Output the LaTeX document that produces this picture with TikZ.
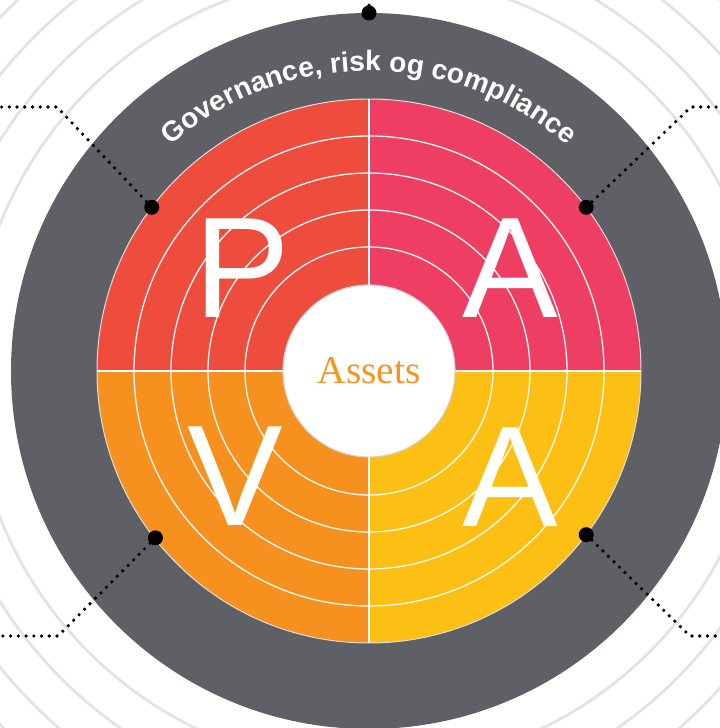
\documentclass[tikz,border=0pt]{standalone}
\usepackage{fontspec}
\setmainfont{Liberation Sans}
\newfontfamily\assetsfont{Liberation Serif}
\usetikzlibrary{decorations.text}
\definecolor{ringgray}{HTML}{5F6065}
\definecolor{haze}{HTML}{E2E3E4}
\definecolor{planred}{HTML}{EE4C3C}
\definecolor{actpink}{HTML}{EF3E64}
\definecolor{verorange}{HTML}{F6901E}
\definecolor{adjyellow}{HTML}{FCBF13}
\definecolor{assetorange}{HTML}{F7941D}
\newcommand*{\grcstyle}{\fontsize{20}{20}\selectfont\bfseries\color{white}}
\newcommand{\quarter}[2]{%
% start angle, colour
  \pgfmathsetmacro{\qstart}{#1}
  \pgfmathsetmacro{\qend}{#1+90}
  \fill[#2] (0,0) -- (\qstart:272) arc (\qstart:\qend:272) -- cycle;
  \foreach \r in {124,161,198,235}
    \draw[white, line width=0.9pt] (\qstart:\r) arc (\qstart:\qend:\r);
}

\begin{document}
\begin{tikzpicture}[x=0.025cm, y=0.025cm,
  bigletter/.style={text=white, inner sep=0pt, font=\fontsize{102}{102}\selectfont},
  blackdot/.style={circle, fill=black, inner sep=0pt, minimum size=0.375cm},
  dotline/.style={line width=2.6pt, line cap=round, dash pattern=on 0pt off 5.5pt}]
  \useasboundingbox (-369,-357) rectangle (351,371);
  \foreach \r in {397,435,473,511}
    \draw[haze, line width=2pt] (0,0) circle (\r);
  \fill[ringgray] (0,0) circle (358);
  \quarter{90}{planred}
  \quarter{0}{actpink}
  \quarter{180}{verorange}
  \quarter{270}{adjyellow}
  \draw[white, line width=0.9pt] (-272,0) -- (272,0) (0,-272) -- (0,272);
  \draw[white!80!ringgray, line width=0.7pt] (0,0) circle (272);
  \node[circle, fill=white, draw=black!18, line width=0.8pt, minimum size=4.3cm,
    text=assetorange, font=\assetsfont\fontsize{28}{28}\selectfont] (assets) at (0,0) {Assets};
  \foreach \x/\y/\txt/\name in {-127/103/P/plan, 141/103/A/act, -134/-105/V/verify, 141/-106/A/adjust}
    \node[bigletter] (\name) at (\x,\y) {\txt};
  \path[decoration = {text along path, text = {|\grcstyle|Governance, risk og compliance},
    text align = {align = center}}, decorate]
    (150:300) arc (150:30:300);
  % dots on the rim and their leaders
  \node[blackdot] (dtop) at (90:358) {};
  \node[blackdot] (dplan) at (143:272) {};
  \node[blackdot] (dact) at (37:272) {};
  \node[blackdot] (dverify) at (218:271) {};
  \node[blackdot] (dadjust) at (323:272) {};
  \coordinate (etop) at (0,371);
  \coordinate (kplan) at (-312,264);
  \coordinate (eplan) at (-369,264);
  \coordinate (kact) at (322,264);
  \coordinate (eact) at (351,264);
  \coordinate (kverify) at (-311,-265);
  \coordinate (everify) at (-369,-265);
  \coordinate (kadjust) at (321,-265);
  \coordinate (eadjust) at (351,-265);
  \draw[dotline] (dtop) -- (etop);
  \draw[dotline] (dplan) -- (kplan) -- (eplan);
  \draw[dotline] (dact) -- (kact) -- (eact);
  \draw[dotline] (dverify) -- (kverify) -- (everify);
  \draw[dotline] (dadjust) -- (kadjust) -- (eadjust);
\end{tikzpicture}
\end{document}
